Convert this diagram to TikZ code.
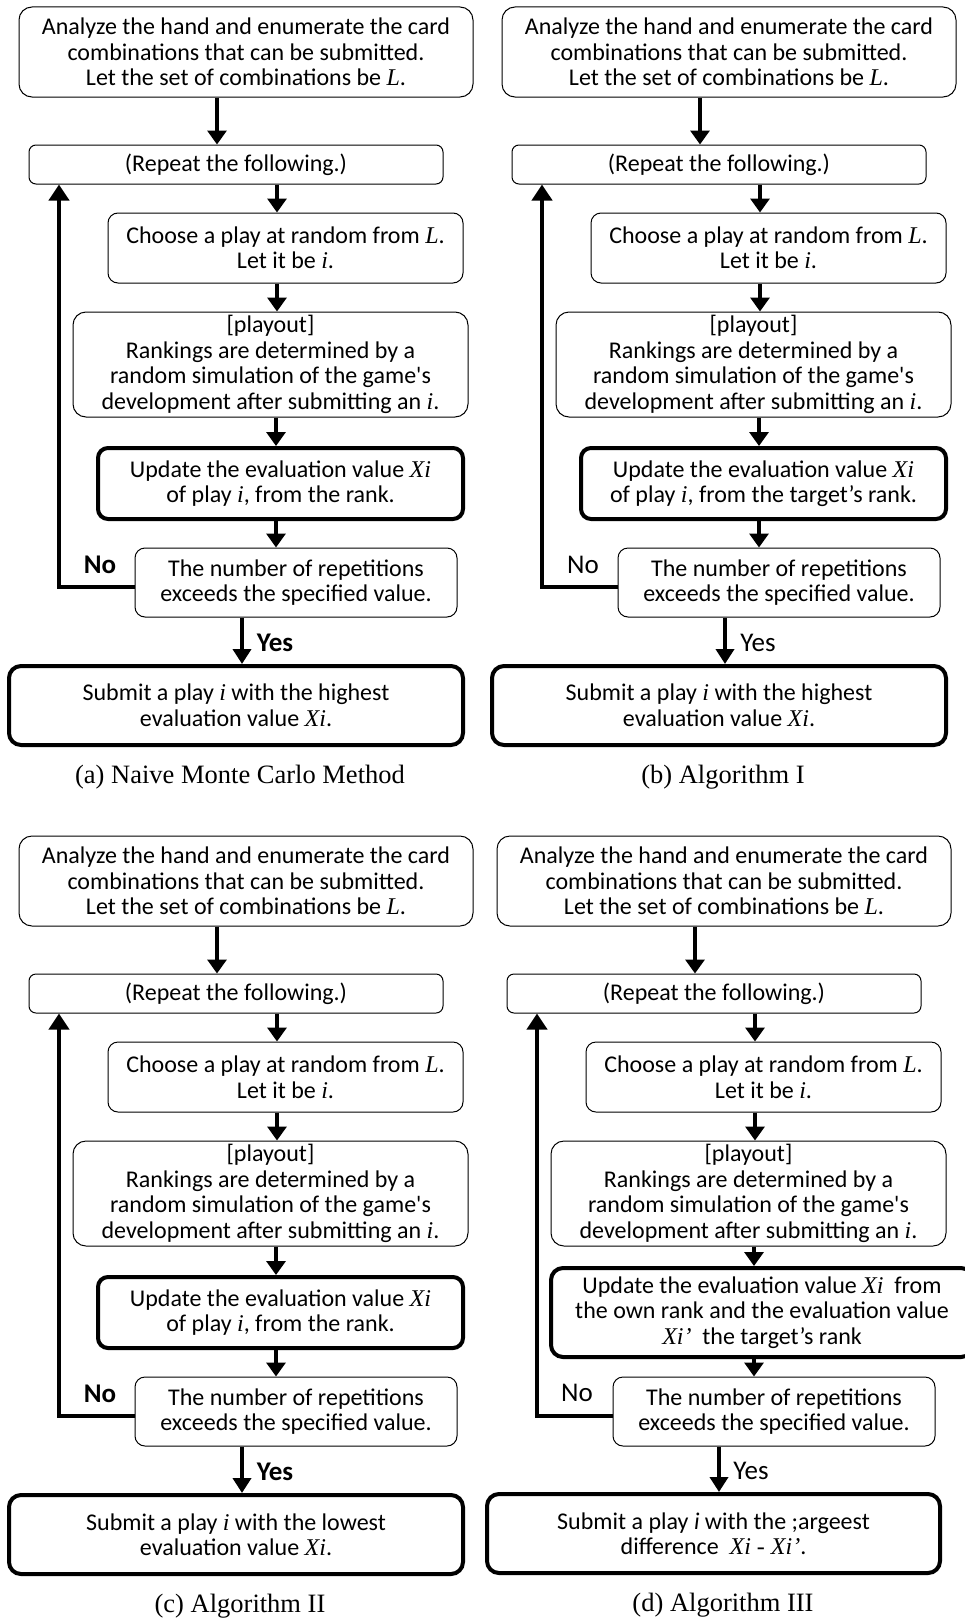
\documentclass[tikz,border=0pt]{standalone}
\usepackage{fontspec}
\setmainfont{Carlito}
\newfontfamily\tms{Liberation Serif}
\usetikzlibrary{arrows.meta}
\newcommand\mi[1]{{\tms\itshape #1}}
\tikzset{
  tbox/.style={draw, rectangle, line width=1pt, align=center, inner sep=0pt,
    font=\fontsize{24}{25.5}\selectfont},
  thk/.style={tbox, line width=4pt},
  arr/.style={line width=3.3pt, -{Triangle[width=19pt,length=14pt]}},
  yarr/.style={line width=4.5pt, -{Triangle[width=18pt,length=15pt]}},
  lp/.style={line width=4pt, -{Triangle[width=20pt,length=16pt]}},
  lbl/.style={font=\fontsize{27}{30}\selectfont},
  blbl/.style={font=\fontsize{27}{30}\selectfont\bfseries},
  captxt/.style={font=\tms\fontsize{26.5}{30}\selectfont}
}
\newcommand\toppart[1]{%
  \node[tbox,minimum width=454pt,minimum height=90pt,rounded corners=13pt] (#1top) at (246,52)
    {Analyze the hand and enumerate the card\\combinations that can be submitted.\\Let the set of combinations be \mi{L}.};
  \node[tbox,minimum width=414pt,minimum height=39pt,rounded corners=7pt] (#1rep) at (236,164.5)
    {(Repeat the following.)};
  \node[tbox,minimum width=355pt,minimum height=70pt,rounded corners=10pt] (#1cho) at (285.5,248)
    {Choose a play at random from \mi{L}.\\Let it be \mi{i}.};
  \node[tbox,minimum width=395pt,minimum height=105pt,rounded corners=13pt] (#1ply) at (270.5,364.5)
    {[playout]\\Rankings are determined by a\\random simulation of the game\textquotesingle s\\development after submitting an \mi{i}.};
  \node[tbox,minimum width=322pt,minimum height=69pt,rounded corners=10pt] (#1num) at (296,582.5)
    {The number of repetitions\\exceeds the specified value.};
  \draw[arr] ([xshift=-29pt]#1top.south) -- ([xshift=-19pt]#1rep.north);
  \draw[arr] ([xshift=41pt]#1rep.south) -- ([xshift=-8.5pt]#1cho.north);
  \draw[arr] ([xshift=-8.5pt]#1cho.south) -- ([xshift=6.5pt]#1ply.north);
  \draw[lp] ([yshift=-4.5pt]#1num.west) -| ([xshift=-177pt]#1rep.south);
}
\begin{document}
\begin{tikzpicture}[x=1pt,y=-1pt]
\fill[white] (0,0) rectangle (964,1619);
\useasboundingbox (0,0) rectangle (964,1619);

% (a)
\begin{scope}
\toppart{a}
\node[thk,minimum width=365pt,minimum height=71pt,rounded corners=10pt] (aupd) at (280.5,483.5)
  {Update the evaluation value \mi{Xi}\\of play \mi{i}, from the rank.};
\node[thk,minimum width=454pt,minimum height=79pt,rounded corners=12pt] (asub) at (236,705.5)
  {Submit a play \mi{i} with the highest\\evaluation value \mi{Xi}.};
\draw[arr] ([xshift=5.5pt]aply.south) -- ([xshift=-4.5pt]aupd.north);
\draw[arr] ([xshift=-4.5pt]aupd.south) -- ([xshift=-20pt]anum.north);
\draw[yarr] ([xshift=-54pt]anum.south) -- ([xshift=6pt]asub.north);
\node[blbl] (ano) at (100,565) {No};
\node[blbl] (ayes) at (275,643) {Yes};
\node[captxt] (acap) at (240,777) {(a) Naive Monte Carlo Method};
\end{scope}

% (b)
\begin{scope}[shift={(483,0)}]
\toppart{b}
\node[thk,minimum width=365pt,minimum height=71pt,rounded corners=10pt] (bupd) at (280.5,483.5)
  {Update the evaluation value \mi{Xi}\\of play \mi{i}, from the target’s rank.};
\node[thk,minimum width=454pt,minimum height=79pt,rounded corners=12pt] (bsub) at (236,705.5)
  {Submit a play \mi{i} with the highest\\evaluation value \mi{Xi}.};
\draw[arr] ([xshift=5.5pt]bply.south) -- ([xshift=-4.5pt]bupd.north);
\draw[arr] ([xshift=-4.5pt]bupd.south) -- ([xshift=-20pt]bnum.north);
\draw[yarr] ([xshift=-54pt]bnum.south) -- ([xshift=6pt]bsub.north);
\node[lbl] (bno) at (100,565) {No};
\node[lbl] (byes) at (275,643) {Yes};
\node[captxt] (bcap) at (240,777) {(b) Algorithm I};
\end{scope}

% (c)
\begin{scope}[shift={(0,829)}]
\toppart{c}
\node[thk,minimum width=365pt,minimum height=71pt,rounded corners=10pt] (cupd) at (280.5,483.5)
  {Update the evaluation value \mi{Xi}\\of play \mi{i}, from the rank.};
\node[thk,minimum width=454pt,minimum height=79pt,rounded corners=12pt] (csub) at (236,705.5)
  {Submit a play \mi{i} with the lowest\\evaluation value \mi{Xi}.};
\draw[arr] ([xshift=5.5pt]cply.south) -- ([xshift=-4.5pt]cupd.north);
\draw[arr] ([xshift=-4.5pt]cupd.south) -- ([xshift=-20pt]cnum.north);
\draw[yarr] ([xshift=-54pt]cnum.south) -- ([xshift=6pt]csub.north);
\node[blbl] (cno) at (100,565) {No};
\node[blbl] (cyes) at (275,643) {Yes};
\node[captxt] (ccap) at (240,777) {(c) Algorithm II};
\end{scope}

% (d)
\begin{scope}[shift={(478,829)}]
\toppart{d}
\node[thk,minimum width=422pt,minimum height=89pt,rounded corners=12pt] (dupd) at (284,483.5)
  {Update the evaluation value \mi{Xi}~ from\\the own rank and the evaluation value\\\mi{Xi’}~ the target’s rank};
\node[thk,minimum width=453pt,minimum height=79pt,rounded corners=12pt] (dsub) at (235.5,704.5)
  {Submit a play \textit{i} with the ;argeest\\difference~ \mi{Xi - Xi’}.};
\draw[arr] ([xshift=5.5pt]dply.south) -- ([xshift=-8pt]dupd.north);
\draw[arr] ([xshift=-8pt]dupd.south) -- ([xshift=-20pt]dnum.north);
\draw[yarr] ([xshift=-55pt]dnum.south) -- ([xshift=5.5pt]dsub.north);
\node[lbl] (dno) at (99,564) {No};
\node[lbl] (dyes) at (273,642) {Yes};
\node[captxt] (dcap) at (245,776) {(d) Algorithm III};
\end{scope}
\end{tikzpicture}
\end{document}
